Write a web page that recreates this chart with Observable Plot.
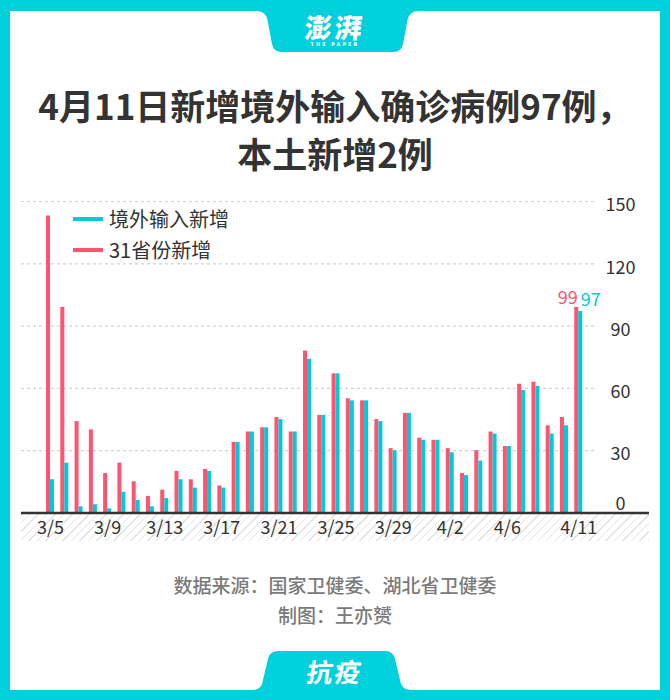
<!DOCTYPE html>
<html><head><meta charset="utf-8">
<script src="https://cdn.jsdelivr.net/npm/d3@7"></script>
<script src="https://cdn.jsdelivr.net/npm/@observablehq/plot@0.6"></script>
<style>
body{margin:0;background:#fff;}
#wrap{position:relative;width:670px;height:700px;background:#00cfdc;overflow:hidden;font-family:"Noto Sans CJK SC","Noto Sans",sans-serif;}
.abs{position:absolute;}
#title{left:0;width:670px;top:81px;text-align:center;font-size:35px;font-weight:700;color:#333;line-height:48px;}
#legend{left:73px;top:203px;font-size:20px;color:#333;}
.li{display:flex;align-items:center;height:31px;}
.sw{width:30px;height:4px;margin-right:6px;}
#footer{left:0;width:670px;top:570px;text-align:center;font-size:19px;color:#7a7a7a;line-height:30px;font-weight:500;}
#hatch{left:21px;top:513.5px;width:628px;height:27px;background:repeating-linear-gradient(135deg,#e2e2e2 0 1px,#fff 1px 6px);}
#chart{left:0;top:190px;}
</style></head>
<body>
<div id="wrap">
  <svg class="abs" style="left:0;top:0" width="670" height="700">
    <rect x="10" y="11" width="650" height="679" fill="#fff"/>
    <path d="M256,11 Q266,11 267.5,20 L272,44 Q273.5,52 282,52 L393,52 Q401.5,52 403,44 L407.5,20 Q409,11 419,11 Z" fill="#00cfdc"/>
    <path d="M252,690 Q262,690 263,680 L268,659 Q270,651 278,651 L385,651 Q393,651 395,659 L400,680 Q401,690 412,690 Z" fill="#00cfdc"/>
  </svg>
  <div class="abs" style="left:0;width:670px;top:12px;text-align:center;color:#fff;font-size:27px;font-weight:900;line-height:30px;letter-spacing:3px;transform:skewX(-6deg);">澎湃</div>
  <div class="abs" style="left:0;width:670px;top:41px;text-align:center;color:#fff;font-size:5px;font-weight:700;letter-spacing:2px;font-family:'DejaVu Sans';">THE PAPER</div>
  <div id="title" class="abs">4月11日新增境外输入确诊病例97例，<br>本土新增2例</div>
  <div id="hatch" class="abs"></div>
  <div id="chart" class="abs"></div>
  <div id="legend" class="abs"></div>
  <div id="footer" class="abs">数据来源：国家卫健委、湖北省卫健委<br>制图：王亦赟</div>
  <div class="abs" style="left:0;width:670px;top:655px;text-align:center;color:#fff;font-size:26px;font-weight:700;line-height:32px;letter-spacing:2px;transform:skewX(-8deg);">抗疫</div>
</div>
<script>
const dates = ["3/5","3/6","3/7","3/8","3/9","3/10","3/11","3/12","3/13","3/14","3/15","3/16","3/17","3/18","3/19","3/20","3/21","3/22","3/23","3/24","3/25","3/26","3/27","3/28","3/29","3/30","3/31","4/1","4/2","4/3","4/4","4/5","4/6","4/7","4/8","4/9","4/10","4/11"];
const total = [143,99,44,40,19,24,15,8,11,20,16,21,13,34,39,41,46,39,78,47,67,55,54,45,31,48,36,35,31,19,30,39,32,62,63,42,46,99];
const imported = [16,24,3,4,2,10,6,3,7,16,12,20,12,34,39,41,45,39,74,47,67,54,54,44,30,48,35,35,29,18,25,38,32,59,61,38,42,97];
const xTicks = ["3/5","3/9","3/13","3/17","3/21","3/25","3/29","4/2","4/6","4/11"];
const yTicks = [0,30,60,90,120,150];
const seriesNames = ["境外输入新增","31省份新增"];
const RED = "#ff5470", CYAN = "#00cad9";

const rows = dates.map((d,i)=>({date:d,total:total[i],imported:imported[i]}));
const last = [rows[rows.length-1]];
const font = "'Noto Sans CJK SC','Noto Sans',sans-serif";

const chart = Plot.plot({
  width: 670, height: 352,
  marginLeft: 21, marginRight: 21, marginTop: 11, marginBottom: 29.5,
  style: {background:"transparent", fontFamily: font, overflow:"visible"},
  x: {type:"band", domain: dates, paddingInner: 0, paddingOuter: 2.995, align: 0.256, round: false, axis: null},
  y: {domain:[0,150], axis: null},
  marks: [
    Plot.ruleY(yTicks.filter(d=>d>0), {stroke:"#d2d2d2", strokeWidth:1.2, strokeDasharray:"3,3", insetRight: 54}),
    Plot.barY(rows, {x:"date", y:"total", fill: RED, insetLeft: 3.14, insetRight: 7.14}),
    Plot.barY(rows, {x:"date", y:"imported", fill: CYAN, insetLeft: 7.14, insetRight: 3.14}),
    Plot.ruleY([0], {stroke:"#333", strokeWidth: 2.5}),
    Plot.text(yTicks.filter(d=>d>0), {y: d=>d, frameAnchor:"right", dx:-29, dy:4, text: d=>String(d), fontSize:18, fill:"#333", textAnchor:"middle"}),
    Plot.text([0], {y: d=>d, frameAnchor:"right", dx:-29, dy:-9, text: d=>String(d), fontSize:18, fill:"#333", textAnchor:"middle"}),
    Plot.text(xTicks, {x: d=>d, frameAnchor:"bottom", dy:21, text: d=>d, fontSize:18, fill:"#333"}),
    Plot.text(last, {x:"date", y:"total", text: d=>String(d.total), dx:-11, dy:-9, fontSize:18, fill: RED}),
    Plot.text(last, {x:"date", y:"imported", text: d=>String(d.imported), dx:12, dy:-11, fontSize:18, fill: CYAN})
  ]
});
document.getElementById("chart").appendChild(chart);

const legend = document.getElementById("legend");
[[seriesNames[0], CYAN],[seriesNames[1], RED]].forEach(([n,c])=>{
  const li = document.createElement("div"); li.className="li";
  const sw = document.createElement("div"); sw.className="sw"; sw.style.background=c;
  const t = document.createElement("span"); t.textContent=n;
  li.appendChild(sw); li.appendChild(t); legend.appendChild(li);
});
</script>
</body></html>
